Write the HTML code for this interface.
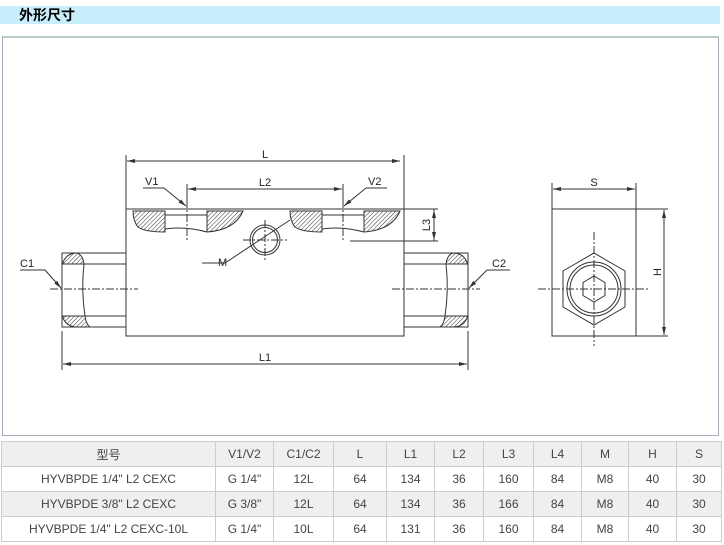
<!DOCTYPE html>
<html><head><meta charset="utf-8"><style>
body{margin:0;width:724px;height:545px;background:#fff;font-family:"Liberation Sans","Noto Sans CJK SC",sans-serif;position:relative;overflow:hidden}
.hd{position:absolute;left:0;top:6px;width:720px;height:18px;background:#c8eefc;font-weight:bold;font-size:14px;line-height:18px;padding-left:19px;box-sizing:border-box;color:#000}
.panel{position:absolute;left:2px;top:36px;width:717px;height:400px;border:1px solid #aab;border-top:2px solid #bcc;box-sizing:border-box}
table{position:absolute;left:1px;top:441px;border-collapse:collapse;font-size:12px;color:#444}
td{border:1px solid #ccc;text-align:center;height:24px;padding:0}
tr.g td{background:#efefef}
svg{position:absolute;left:0;top:0}
</style></head><body>
<div class="hd">外形尺寸</div>
<div class="panel"></div>
<svg width="724" height="440" viewBox="0 0 724 440" font-family="Liberation Sans, sans-serif" font-size="11">
<defs><pattern id="h" width="3" height="3" patternUnits="userSpaceOnUse" patternTransform="rotate(45)"><line x1="0" y1="0" x2="0" y2="3" stroke="#333" stroke-width="1"/></pattern>
<marker id="a" markerWidth="8" markerHeight="6" refX="8" refY="3" orient="auto"><path d="M0,1 L8,3 L0,5z" fill="#333"/></marker></defs>
<g stroke="#333" fill="none" stroke-width="1">
<rect x="126" y="209" width="278" height="127"/>
<rect x="62" y="253" width="64" height="74"/>
<rect x="404" y="253" width="64" height="74"/>
<line x1="62" y1="264" x2="126" y2="264"/><line x1="62" y1="316" x2="126" y2="316"/>
<line x1="404" y1="264" x2="468" y2="264"/><line x1="404" y1="316" x2="468" y2="316"/>
<!-- ports -->
<path d="M133,211 h32 v21 q-20,0 -27,-5 q-5,-6 -5,-16z" fill="url(#h)"/>
<path d="M207,211 h36 q-8,19 -36,21z" fill="url(#h)"/>
<path d="M165,215 h42 M165,229 q20,-3 42,3"/>
<path d="M290,211 h32 v21 q-20,0 -27,-5 q-5,-6 -5,-16z" fill="url(#h)"/>
<path d="M364,211 h36 q-8,19 -36,21z" fill="url(#h)"/>
<path d="M322,215 h42 M322,229 q20,-3 42,3"/>
<path d="M63,262 q4,-9 14,-9 q6,2 7,11 h-21z" fill="url(#h)"/>
<path d="M63,318 q4,9 14,9 h13 q-4,-3 -5,-11 h-22z" fill="url(#h)"/>
<path d="M467,262 q-4,-9 -14,-9 q-6,2 -7,11 h21z" fill="url(#h)"/>
<path d="M467,318 q-4,9 -14,9 h-13 q4,-3 5,-11 h22z" fill="url(#h)"/>
<path d="M84,264 q-3,26 1,52"/><path d="M446,264 q3,26 -1,52"/>
<circle cx="265" cy="240" r="15"/><circle cx="265" cy="240" r="12.5"/>
<line x1="265" y1="220" x2="265" y2="262" stroke-dasharray="8,2,2,2"/>
<line x1="243" y1="240" x2="287" y2="240" stroke-dasharray="8,2,2,2"/>
<line x1="290" y1="220" x2="225" y2="263"/><line x1="225" y1="263" x2="202" y2="263"/>
<line x1="50" y1="289" x2="138" y2="289" stroke-dasharray="8,2,2,2"/>
<line x1="392" y1="289" x2="480" y2="289" stroke-dasharray="8,2,2,2"/>
<line x1="187" y1="200" x2="187" y2="240" stroke-dasharray="8,2,2,2"/>
<line x1="343" y1="200" x2="343" y2="240" stroke-dasharray="8,2,2,2"/>
<line x1="126" y1="155" x2="126" y2="209"/><line x1="404" y1="155" x2="404" y2="209"/>
<line x1="130" y1="161" x2="400" y2="161" marker-end="url(#a)"/><line x1="400" y1="161" x2="127" y2="161" marker-end="url(#a)"/>
<line x1="187" y1="184" x2="187" y2="200"/><line x1="343" y1="184" x2="343" y2="200"/>
<line x1="190" y1="189" x2="342" y2="189" marker-end="url(#a)"/><line x1="340" y1="189" x2="188" y2="189" marker-end="url(#a)"/>
<line x1="62" y1="331" x2="62" y2="370"/><line x1="468" y1="331" x2="468" y2="370"/>
<line x1="65" y1="364" x2="467" y2="364" marker-end="url(#a)"/><line x1="465" y1="364" x2="63" y2="364" marker-end="url(#a)"/>
<line x1="404" y1="209" x2="438" y2="209"/><line x1="350" y1="241" x2="438" y2="241"/>
<line x1="434" y1="215" x2="434" y2="210" marker-end="url(#a)"/><line x1="434" y1="235" x2="434" y2="240" marker-end="url(#a)"/>
<line x1="434" y1="209" x2="434" y2="241"/>
<line x1="143" y1="188" x2="164" y2="188"/><line x1="164" y1="188" x2="186" y2="206" marker-end="url(#a)"/>
<line x1="387" y1="188" x2="366" y2="188"/><line x1="366" y1="188" x2="344" y2="206" marker-end="url(#a)"/>
<line x1="20" y1="270" x2="45" y2="270"/><line x1="45" y1="270" x2="61" y2="288" marker-end="url(#a)"/>
<line x1="510" y1="270" x2="487" y2="270"/><line x1="487" y1="270" x2="469" y2="288" marker-end="url(#a)"/>
<rect x="552" y="209" width="84" height="127"/>
<line x1="552" y1="183" x2="552" y2="209"/><line x1="636" y1="183" x2="636" y2="209"/>
<line x1="556" y1="189" x2="635" y2="189" marker-end="url(#a)"/><line x1="632" y1="189" x2="553" y2="189" marker-end="url(#a)"/>
<line x1="636" y1="209" x2="668" y2="209"/><line x1="636" y1="336" x2="668" y2="336"/>
<line x1="664" y1="213" x2="664" y2="210" marker-end="url(#a)"/><line x1="664" y1="332" x2="664" y2="335" marker-end="url(#a)"/>
<line x1="664" y1="210" x2="664" y2="335"/>
<polygon points="594,253 625,271 625,307 594,325 563,307 563,271"/>
<circle cx="594" cy="289" r="27"/><circle cx="594" cy="289" r="24"/>
<polygon points="594,276 605,282.5 605,295.5 594,302 583,295.5 583,282.5"/>
<line x1="538" y1="289" x2="650" y2="289" stroke-dasharray="8,2,2,2"/>
<line x1="594" y1="232" x2="594" y2="346" stroke-dasharray="8,2,2,2"/>
</g>
<g fill="#222" stroke="none">
<text x="265" y="158" text-anchor="middle">L</text>
<text x="265" y="186" text-anchor="middle">L2</text>
<text x="145" y="185">V1</text><text x="368" y="185">V2</text>
<text x="20" y="267">C1</text><text x="492" y="267">C2</text>
<text x="218" y="266">M</text>
<text x="265" y="361" text-anchor="middle">L1</text>
<text x="594" y="186" text-anchor="middle">S</text>
<text transform="translate(430,225) rotate(-90)" text-anchor="middle">L3</text>
<text transform="translate(661,272) rotate(-90)" text-anchor="middle">H</text>
</g>
</svg>
<table>
<colgroup><col style="width:214px"><col style="width:58px"><col style="width:60px"><col style="width:53px"><col style="width:48px"><col style="width:49px"><col style="width:50px"><col style="width:48px"><col style="width:47px"><col style="width:48px"><col style="width:45px"></colgroup>
<tr class="g"><td>型号</td><td>V1/V2</td><td>C1/C2</td><td>L</td><td>L1</td><td>L2</td><td>L3</td><td>L4</td><td>M</td><td>H</td><td>S</td></tr>
<tr><td>HYVBPDE 1/4" L2 CEXC</td><td>G 1/4"</td><td>12L</td><td>64</td><td>134</td><td>36</td><td>160</td><td>84</td><td>M8</td><td>40</td><td>30</td></tr>
<tr class="g"><td>HYVBPDE 3/8" L2 CEXC</td><td>G 3/8"</td><td>12L</td><td>64</td><td>134</td><td>36</td><td>166</td><td>84</td><td>M8</td><td>40</td><td>30</td></tr>
<tr><td>HYVBPDE 1/4" L2 CEXC-10L</td><td>G 1/4"</td><td>10L</td><td>64</td><td>131</td><td>36</td><td>160</td><td>84</td><td>M8</td><td>40</td><td>30</td></tr>
</table>
</body></html>
